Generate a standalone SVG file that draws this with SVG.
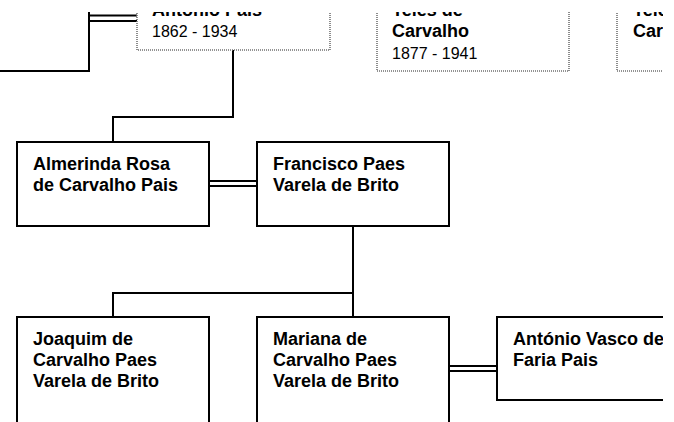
<svg xmlns="http://www.w3.org/2000/svg" width="674" height="422" viewBox="0 0 674 422">
<style>
.box{fill:#fff;stroke:#000;stroke-width:2}
.old{fill:#fff;stroke:#707070;stroke-width:1.6;stroke-dasharray:1 1}
.ln{fill:none;stroke:#000;stroke-width:2}
.nm{font-family:"Liberation Sans",Arial,sans-serif;font-weight:bold;font-size:18px;fill:#000}
.dt{font-family:"Liberation Sans",Arial,sans-serif;font-size:16px;fill:#000}
</style>
<defs><clipPath id="view"><rect x="0" y="12" width="663" height="410"/></clipPath></defs>
<rect width="674" height="422" fill="#fff"/>
<g clip-path="url(#view)">
<g id="connectors">
<path class="ln" d="M0 71H89V0"/>
<path class="ln" d="M89 15.5H137M89 21H137"/>
<path class="ln" d="M233 50V117H113V142"/>
<path class="ln" d="M209 181H257M209 186H257"/>
<path class="ln" d="M353 226V293H113V317M353 293V317"/>
<path class="ln" d="M449 366H497M449 371H497"/>
</g>
<g id="antonio-pais">
<rect class="old" x="137" y="-40" width="193" height="90"/>
<text class="nm" x="152" y="16">António Pais</text>
<text class="dt" x="152" y="37">1862 - 1934</text>
</g>
<g id="teles-de-carvalho">
<rect class="old" x="377" y="-40" width="192" height="111"/>
<text class="nm" x="392" y="15.5">Teles de</text>
<text class="nm" x="392" y="36.5">Carvalho</text>
<text class="dt" x="392" y="59">1877 - 1941</text>
</g>
<g id="teles-de-carvalho-2">
<rect class="old" x="617" y="-40" width="192" height="111"/>
<text class="nm" x="633" y="15.5">Teles de</text>
<text class="nm" x="633" y="36.5">Carvalho</text>
</g>
<g id="almerinda">
<rect class="box" x="17" y="142" width="192" height="84"/>
<text class="nm" x="33" y="170">Almerinda Rosa</text>
<text class="nm" x="33" y="191">de Carvalho Pais</text>
</g>
<g id="francisco">
<rect class="box" x="257" y="142" width="192" height="84"/>
<text class="nm" x="273" y="170">Francisco Paes</text>
<text class="nm" x="273" y="191">Varela de Brito</text>
</g>
<g id="joaquim">
<rect class="box" x="17" y="317" width="192" height="110"/>
<text class="nm" x="33" y="345">Joaquim de</text>
<text class="nm" x="33" y="366">Carvalho Paes</text>
<text class="nm" x="33" y="387">Varela de Brito</text>
</g>
<g id="mariana">
<rect class="box" x="257" y="317" width="192" height="110"/>
<text class="nm" x="273" y="345">Mariana de</text>
<text class="nm" x="273" y="366">Carvalho Paes</text>
<text class="nm" x="273" y="387">Varela de Brito</text>
</g>
<g id="antonio-vasco">
<rect class="box" x="497" y="317" width="192" height="83"/>
<text class="nm" x="513" y="345">António Vasco de</text>
<text class="nm" x="513" y="366">Faria Pais</text>
</g>
</g>
</svg>
